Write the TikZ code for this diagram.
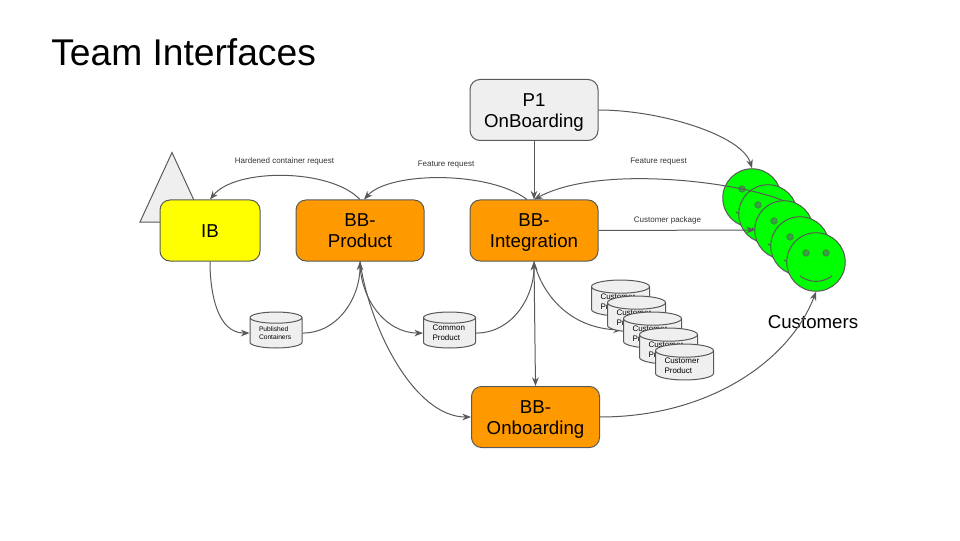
\documentclass[tikz,border=0pt]{standalone}
\usepackage{fontspec}
\setmainfont{Liberation Sans}
\usetikzlibrary{shapes.geometric,arrows.meta}
\definecolor{box-orange}{HTML}{FF9900}
\definecolor{box-yellow}{HTML}{FFFF00}
\definecolor{box-grey}{HTML}{EFEFEF}
\definecolor{face-green}{HTML}{00FF00}
\definecolor{eye-green}{HTML}{2FA53A}
\definecolor{line-grey}{HTML}{595959}
\newlength{\basisa}
\setlength{\basisa}{7.5pt}
\tikzset{
	team/.style={minimum height=6.1\basisa,minimum width=12.8\basisa,draw=line-grey,line width=0.75pt,rounded corners=1\basisa,align=center,font=\fontsize{14}{16}\selectfont,inner sep=0pt,text height=26.2pt,text depth=0pt},
	store/.style={cylinder,shape border rotate=90,aspect=0.33,anchor=shape center,draw=line-grey,line width=0.75pt,fill=box-grey,minimum height=3.6\basisa,minimum width=5.2\basisa,inner sep=0pt,text width=3.4\basisa,align=left,font=\fontsize{6}{7.5}\selectfont},
	customerstore/.style={store,minimum height=3.4\basisa,minimum width=5.8\basisa,text width=4\basisa},
	customer/.style={circle,draw=line-grey,line width=0.75pt,fill=face-green,minimum size=5.85\basisa,inner sep=0pt},
	link/.style={draw=line-grey,line width=0.75pt,-{Stealth[length=6.5pt,width=5pt]}},
	caption/.style={font=\fontsize{6}{7}\selectfont,text=black!80},
}
\newcommand{\smileyface}[3]{%
	\draw (#1\basisa,#2\basisa) node[customer] (#3) {};
	\fill[eye-green,draw=line-grey,line width=0.3pt] (#3.center) ++(-1.0\basisa,0.9\basisa) circle (0.33\basisa);
	\fill[eye-green,draw=line-grey,line width=0.3pt] (#3.center) ++(1.0\basisa,0.9\basisa) circle (0.33\basisa);
	\draw[line-grey,line width=0.75pt] (#3.center) ++(-1.6\basisa,-1.4\basisa) to[out=-35,in=-145] ++(3.2\basisa,0);
}

\begin{document}
\begin{tikzpicture}
	\useasboundingbox (0,0) rectangle (96\basisa,54\basisa);

	\draw (5.1\basisa,48.8\basisa) node[anchor=west,inner sep=0pt,font=\fontsize{27.9}{33}\selectfont] (Title) {Team Interfaces};

	% triangle behind IB
	\draw[draw=line-grey,fill=box-grey,line width=0.75pt] (14.0\basisa,31.8\basisa) -- (17.2\basisa,38.75\basisa) -- (20.4\basisa,31.8\basisa) -- cycle;

	\draw (21.0\basisa,30.95\basisa) 
		node[team,fill=box-yellow,minimum width=10\basisa,text height=10pt] 
			(IB) {IB};
	\draw (36.0\basisa,30.95\basisa) 
		node[team,fill=box-orange] 
			(Product) {BB-\\Product};
	\draw (53.4\basisa,30.95\basisa) 
		node[team,fill=box-orange] 
			(Integration) {BB-\\Integration};
	\draw (53.4\basisa,43.0\basisa) 
		node[team,fill=box-grey] 
			(OnBoarding) {P1\\OnBoarding};
	\draw (53.55\basisa,12.3\basisa) 
		node[team,fill=box-orange] 
			(Onboarding) {BB-\\Onboarding};

	\draw (27.6\basisa,21.0\basisa) 
		node[store,font=\fontsize{5}{6.5}\selectfont] 
			(Published) {Published\\Containers};
	\draw (44.95\basisa,21.0\basisa) 
		node[store] 
			(Common) {Common\\Product};

	\coordinate (StoreEnd) at (62.2\basisa,21.0\basisa);
	\coordinate (PackageEnd) at (75.5\basisa,31.0\basisa);
	\coordinate (RequestEnd) at (78.4\basisa,33.9\basisa);

	\draw[link] (Integration.south) .. controls (54.2\basisa,24.5\basisa) and (57\basisa,21.2\basisa) .. (StoreEnd);

	\smileyface{75.2}{34.2}{Customer_1}
	\smileyface{76.8}{32.6}{Customer_2}

	\draw (62.05\basisa,24.2\basisa) node[customerstore] (Store_1) {Customer\\Product};
	\draw (63.65\basisa,22.6\basisa) node[customerstore] (Store_2) {Customer\\Product};

	\draw[link] (OnBoarding.east) .. controls (66\basisa,43\basisa) and (74.2\basisa,40.5\basisa) .. (Customer_1.north);
	\draw[link] (Integration.east) -- (PackageEnd);
	\draw[link] (RequestEnd) .. controls (74\basisa,35.8\basisa) and (60\basisa,37.6\basisa) .. (Integration.north);

	\smileyface{78.4}{31.0}{Customer_3}
	\smileyface{80.0}{29.4}{Customer_4}
	\smileyface{81.6}{27.8}{Customer_5}

	\draw (65.25\basisa,21.0\basisa) node[customerstore] (Store_3) {Customer\\Product};
	\draw (66.85\basisa,19.4\basisa) node[customerstore] (Store_4) {Customer\\Product};
	\draw (68.45\basisa,17.8\basisa) node[customerstore] (Store_5) {Customer\\Product};

	\draw (81.3\basisa,21.8\basisa) node[inner sep=0pt,font=\fontsize{14}{17}\selectfont] (Customers) {Customers};

	\draw (28.45\basisa,37.9\basisa) node[caption] (HardenedLabel) {Hardened container request};
	\draw (44.6\basisa,37.55\basisa) node[caption] (FeatureLabel_1) {Feature request};
	\draw (65.85\basisa,37.85\basisa) node[caption] (FeatureLabel_2) {Feature request};
	\draw (66.75\basisa,32.0\basisa) node[caption] (PackageLabel) {Customer package};

	\draw[link] (Product.north) .. controls (33\basisa,37.2\basisa) and (23.5\basisa,37.2\basisa) .. (IB.north);
	\draw[link] ([xshift=-0.7\basisa]Integration.north) .. controls (49\basisa,36.9\basisa) and (39\basisa,36.9\basisa) .. ([xshift=0.4\basisa]Product.north);
	\draw[link] (OnBoarding.south) -- (Integration.north);
	\draw[link] (IB.south) to[out=-90,in=180] (Published.west);
	\draw[link] (Published.east) to[out=0,in=-90] (Product.south);
	\draw[link] (Product.south) to[out=-90,in=180] (Common.west);
	\draw[link] (Common.east) to[out=0,in=-90] (Integration.south);
	\draw[link] (Product.south) .. controls (37\basisa,21\basisa) and (41.5\basisa,12.3\basisa) .. (Onboarding.west);
	\draw[link,{Stealth[length=6.5pt,width=5pt]}-{Stealth[length=6.5pt,width=5pt]}] (Integration.south) -- (Onboarding.north);
	\draw[link] (Onboarding.east) .. controls (71\basisa,12.3\basisa) and (79\basisa,18\basisa) .. (Customer_5.south);
\end{tikzpicture}
\end{document}
